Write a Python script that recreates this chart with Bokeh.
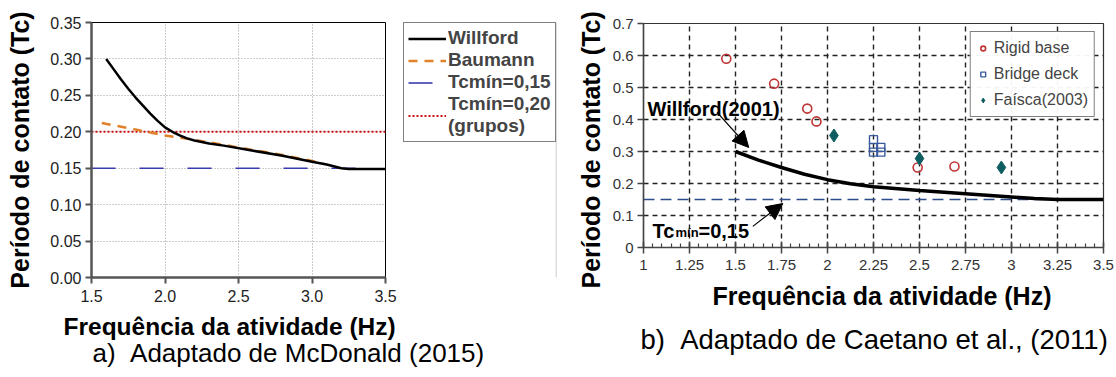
from bokeh.plotting import figure
from bokeh.layouts import row, column
from bokeh.models import (Range1d, FixedTicker, Label, Legend, LegendItem, Arrow,
                          NormalHead, Title, Span)
from bokeh.embed import file_html
from bokeh.resources import INLINE

FONT = "Liberation Sans"

# ---------------- data: panel a (McDonald 2015) ----------------
a_willford_x = [1.6, 1.65, 1.7, 1.75, 1.8, 1.85, 1.9, 1.95, 2.0, 2.05, 2.1, 2.15, 2.2, 2.3,
                2.4, 2.6, 2.8, 3.0, 3.1, 3.2, 3.25, 3.5]
a_willford_y = [0.300, 0.286, 0.272, 0.259, 0.247, 0.236, 0.225, 0.215, 0.206, 0.200, 0.195,
                0.191, 0.188, 0.184, 0.181, 0.174, 0.167, 0.159, 0.155, 0.150, 0.149, 0.149]
a_baumann_x = [1.57, 1.8, 2.0, 2.2, 2.4, 2.6, 2.8, 3.0, 3.08]
a_baumann_y = [0.212, 0.203, 0.195, 0.189, 0.182, 0.175, 0.168, 0.160, 0.156]
a_tc015_x = [1.5, 3.3]
a_tc015_y = [0.15, 0.15]
a_tc020_x = [1.5, 3.5]
a_tc020_y = [0.20, 0.20]
a_xticks = [1.5, 2.0, 2.5, 3.0, 3.5]
a_yticks = [0.0, 0.05, 0.10, 0.15, 0.20, 0.25, 0.30, 0.35]
a_legend_labels = ["Willford", "Baumann", "Tcmín=0,15", "Tcmín=0,20\n(grupos)"]

# ---------------- data: panel b (Caetano et al. 2011) ----------------
b_willford_x = [1.5, 1.625, 1.75, 1.875, 2.0, 2.125, 2.25, 2.5, 2.75, 3.0, 3.125, 3.25, 3.5]
b_willford_y = [0.300, 0.273, 0.250, 0.229, 0.212, 0.199, 0.190, 0.178, 0.168, 0.158, 0.153,
                0.150, 0.150]
b_tc015_x = [1.0, 3.5]
b_tc015_y = [0.15, 0.15]
rigid_x = [1.45, 1.71, 1.89, 1.94, 2.49, 2.69]
rigid_y = [0.590, 0.512, 0.434, 0.394, 0.250, 0.253]
bridge_x = [2.25, 2.25, 2.25, 2.29, 2.29]
bridge_y = [0.337, 0.313, 0.298, 0.313, 0.298]
faisca_x = [2.035, 2.50, 2.945]
faisca_y = [0.350, 0.278, 0.250]
b_xticks = [1.0, 1.25, 1.5, 1.75, 2.0, 2.25, 2.5, 2.75, 3.0, 3.25, 3.5]
b_xlabels = ["1", "1.25", "1.5", "1.75", "2", "2.25", "2.5", "2.75", "3", "3.25", "3.5"]
b_yticks = [0.0, 0.1, 0.2, 0.3, 0.4, 0.5, 0.6, 0.7]
b_ylabels = ["0", "0.1", "0.2", "0.3", "0.4", "0.5", "0.6", "0.7"]
arrow_willford = [1.40, 0.422, 1.572, 0.3125]   # tail x, tail y, head x, head y
arrow_tcmin = [1.594, 0.066, 1.757, 0.1375]

STY_W = dict(line_color="black", line_width=2.5)
STY_B = dict(line_color="#e0822a", line_width=2.5, line_dash="9 7")
STY_15 = dict(line_color="#3b3bb0", line_width=1.6, line_dash="24 24")
STY_20 = dict(line_color="#cc1111", line_width=2, line_dash="2 2")
A_SERIES = [(a_willford_x, a_willford_y, STY_W), (a_baumann_x, a_baumann_y, STY_B),
            (a_tc015_x, a_tc015_y, STY_15), (a_tc020_x, a_tc020_y, STY_20)]


def lab(fig, X, Y, text, size, bold=True, align="left", baseline="alphabetic"):
    """X, Y: position in screen px relative to the frame's bottom-left corner."""
    fig.add_layout(Label(x=X, y=Y, x_units="screen", y_units="screen",
                         text=text, text_font=FONT, text_font_size=f"{size}px",
                         text_font_style="bold" if bold else "normal",
                         text_align=align, text_baseline=baseline, text_color="black"))


def title(fig, side, text, size, bold, offset, standoff):
    fig.add_layout(Title(text=text, align="left", offset=offset, standoff=standoff,
                         text_font=FONT, text_font_size=f"{size}px",
                         text_font_style="bold" if bold else "normal",
                         text_color="black"), side)


def blank(width, height, **borders):
    opts = dict(min_border=0)
    opts.update(borders)
    f = figure(width=width, height=height, output_backend="svg", toolbar_location=None,
               x_axis_type=None, y_axis_type=None,
               x_range=Range1d(0, 1), y_range=Range1d(0, 1), **opts)
    f.outline_line_color = None
    f.grid.visible = False
    return f


# ================= panel a: plot =================
pa = figure(width=400, height=310, output_backend="svg", toolbar_location=None,
            x_range=Range1d(1.5, 3.5), y_range=Range1d(0, 0.35),
            min_border_left=91, min_border_right=15, min_border_top=22,
            min_border_bottom=33)
pa.outline_line_color = "black"
pa.outline_line_width = 1
for ax in (pa.xaxis, pa.yaxis):
    ax.axis_line_color = "#555555"
    ax.axis_line_width = 2.5
    ax.major_tick_line_color = "#555555"
    ax.major_tick_line_width = 2
    ax.major_tick_out = 6
    ax.major_tick_in = 0
    ax.minor_tick_line_color = None
    ax.major_label_text_font = FONT
    ax.major_label_text_font_size = "16px"
    ax.major_label_text_color = "#222222"
pa.xaxis.ticker = FixedTicker(ticks=a_xticks)
pa.yaxis.ticker = FixedTicker(ticks=a_yticks)
pa.xaxis.major_label_overrides = {t: f"{t:.1f}" for t in a_xticks}
pa.yaxis.major_label_overrides = {t: f"{t:.2f}" for t in a_yticks}
pa.xaxis.major_label_standoff = 6
pa.yaxis.major_label_standoff = 4
pa.yaxis.axis_label = "Período de contato (Tc)"
pa.yaxis.axis_label_text_font = FONT
pa.yaxis.axis_label_text_font_size = "25px"
pa.yaxis.axis_label_text_font_style = "bold"
pa.yaxis.axis_label_text_color = "black"
pa.yaxis.axis_label_standoff = 13
pa.grid.grid_line_color = "#9a9a9a"
pa.grid.grid_line_dash = "1 2"
pa.grid.grid_line_width = 1

for xs, ys, sty in A_SERIES[::-1]:
    pa.line(xs, ys, **sty)

# ================= panel a: legend column =================
# frame of pleg starts 3 px right / 20 px below its corner -> legend box at (403, 20)
pleg = blank(157, 310, min_border_left=3, min_border_top=20)
# same series drawn again (outside this blank panel's ranges) only to feed the legend
lr = [pleg.line(xs, ys, **sty) for xs, ys, sty in A_SERIES]
leg_a = Legend(items=[LegendItem(label=t, renderers=[r]) for t, r in zip(a_legend_labels, lr)],
               location="top_left")
leg_a.label_text_font = FONT
leg_a.label_text_font_size = "19px"
leg_a.label_text_font_style = "bold"
leg_a.glyph_width = 38
leg_a.glyph_height = 19
leg_a.label_height = 19
leg_a.label_standoff = 2
leg_a.spacing = 0
leg_a.padding = 4
leg_a.margin = 0
leg_a.border_line_color = "black"
leg_a.border_line_width = 1.5
leg_a.background_fill_alpha = 1
pleg.add_layout(leg_a)
pleg.add_layout(Span(location=153, dimension="height", location_units="screen",
                     line_color="#dddddd", line_width=2))

# ================= panel a: titles below =================
pcap = blank(557, 67)
lab(pcap, 63, 51, "Frequência da atividade (Hz)", 24.5, baseline="middle")
lab(pcap, 92, 25, "a)\u00a0\u00a0Adaptado de McDonald (2015)", 26, bold=False, baseline="middle")

left = column(row(pa, pleg), pcap)

# ================= panel b =================
pb = figure(width=559, height=377, output_backend="svg", toolbar_location=None,
            x_range=Range1d(1.0, 3.5), y_range=Range1d(0, 0.7),
            min_border_left=86, min_border_right=13, min_border_top=23,
            min_border_bottom=130)
pb.outline_line_color = "#333333"
pb.outline_line_width = 1.2
for ax in (pb.xaxis, pb.yaxis):
    ax.axis_line_color = "#444444"
    ax.axis_line_width = 1.5
    ax.major_tick_line_color = "#444444"
    ax.major_tick_line_width = 1.5
    ax.major_label_text_font = FONT
    ax.major_label_text_font_size = "15px"
    ax.major_label_text_color = "#333333"
pb.xaxis.ticker = FixedTicker(ticks=b_xticks,
                              minor_ticks=[1.0 + 0.05 * i for i in range(51)])
pb.yaxis.ticker = FixedTicker(ticks=b_yticks)
pb.xaxis.major_label_overrides = dict(zip(b_xticks, b_xlabels))
pb.yaxis.major_label_overrides = dict(zip(b_yticks, b_ylabels))
pb.xaxis.major_tick_in = 6
pb.xaxis.major_tick_out = 6
pb.xaxis.minor_tick_in = 4
pb.xaxis.minor_tick_out = 0
pb.xaxis.minor_tick_line_color = "#444444"
pb.xaxis.minor_tick_line_width = 1.2
pb.yaxis.major_tick_in = 0
pb.yaxis.major_tick_out = 6
pb.yaxis.minor_tick_line_color = None
pb.xaxis.major_label_standoff = 6
pb.yaxis.major_label_standoff = 4
pb.grid.grid_line_color = "#222222"
pb.grid.grid_line_dash = "5 4"
pb.grid.grid_line_width = 1.4

pb.line(b_tc015_x, b_tc015_y, line_color="#2c4c8c", line_width=1.5, line_dash="11 6")
pb.line(b_willford_x, b_willford_y, line_color="black", line_width=3.5)
rc = pb.scatter(rigid_x, rigid_y, marker="circle", size=9, fill_color=None,
                line_color="#c03535", line_width=1.6)
rs = pb.scatter(bridge_x, bridge_y, marker="square", size=8, fill_color=None,
                line_color="#3a5a9e", line_width=1.4)
rd = pb.scatter(faisca_x, faisca_y, marker="diamond", size=13, fill_color="#0e5d60",
                line_color="#0e5d60")

leg_b = Legend(items=[
    LegendItem(label="Rigid base", renderers=[rc]),
    LegendItem(label="Bridge deck", renderers=[rs]),
    LegendItem(label="Faísca(2003)", renderers=[rd]),
], location="top_right")
leg_b.label_text_font = FONT
leg_b.label_text_font_size = "16px"
leg_b.glyph_width = 12
leg_b.glyph_height = 20
leg_b.label_height = 20
leg_b.label_standoff = 5
leg_b.spacing = 6
leg_b.padding = 6
leg_b.margin = 8
leg_b.border_line_color = "black"
leg_b.border_line_width = 1.2
pb.add_layout(leg_b)

head = dict(size=16, fill_color="black", line_color="black")
pb.add_layout(Arrow(x_start=arrow_willford[0], y_start=arrow_willford[1],
                    x_end=arrow_willford[2], y_end=arrow_willford[3],
                    line_width=1.2, end=NormalHead(**head)))
pb.add_layout(Arrow(x_start=arrow_tcmin[0], y_start=arrow_tcmin[1],
                    x_end=arrow_tcmin[2], y_end=arrow_tcmin[3],
                    line_width=1.2, end=NormalHead(**head)))

# frame of pb: left at x=643, bottom at y=247 (page px)
lab(pb, 647 - 643, 247 - 108, "Willford(2001)", 20)
lab(pb, 652 - 643, 247 - 230, "Tc", 20)
lab(pb, 675 - 643, 247 - 232, "mín", 13)
lab(pb, 698 - 643, 247 - 230, "=0,15", 20)

title(pb, "left", "Período de contato (Tc)", 25, True, -41, 10)
title(pb, "below", "Frequência da atividade (Hz)", 25, True, 69, 14)
title(pb, "below", "b)\u00a0\u00a0Adaptado de Caetano et al., (2011)", 27.5, False, -3, 10)

layout = row(left, pb)
open("out.html", "w").write(file_html(layout, INLINE))
